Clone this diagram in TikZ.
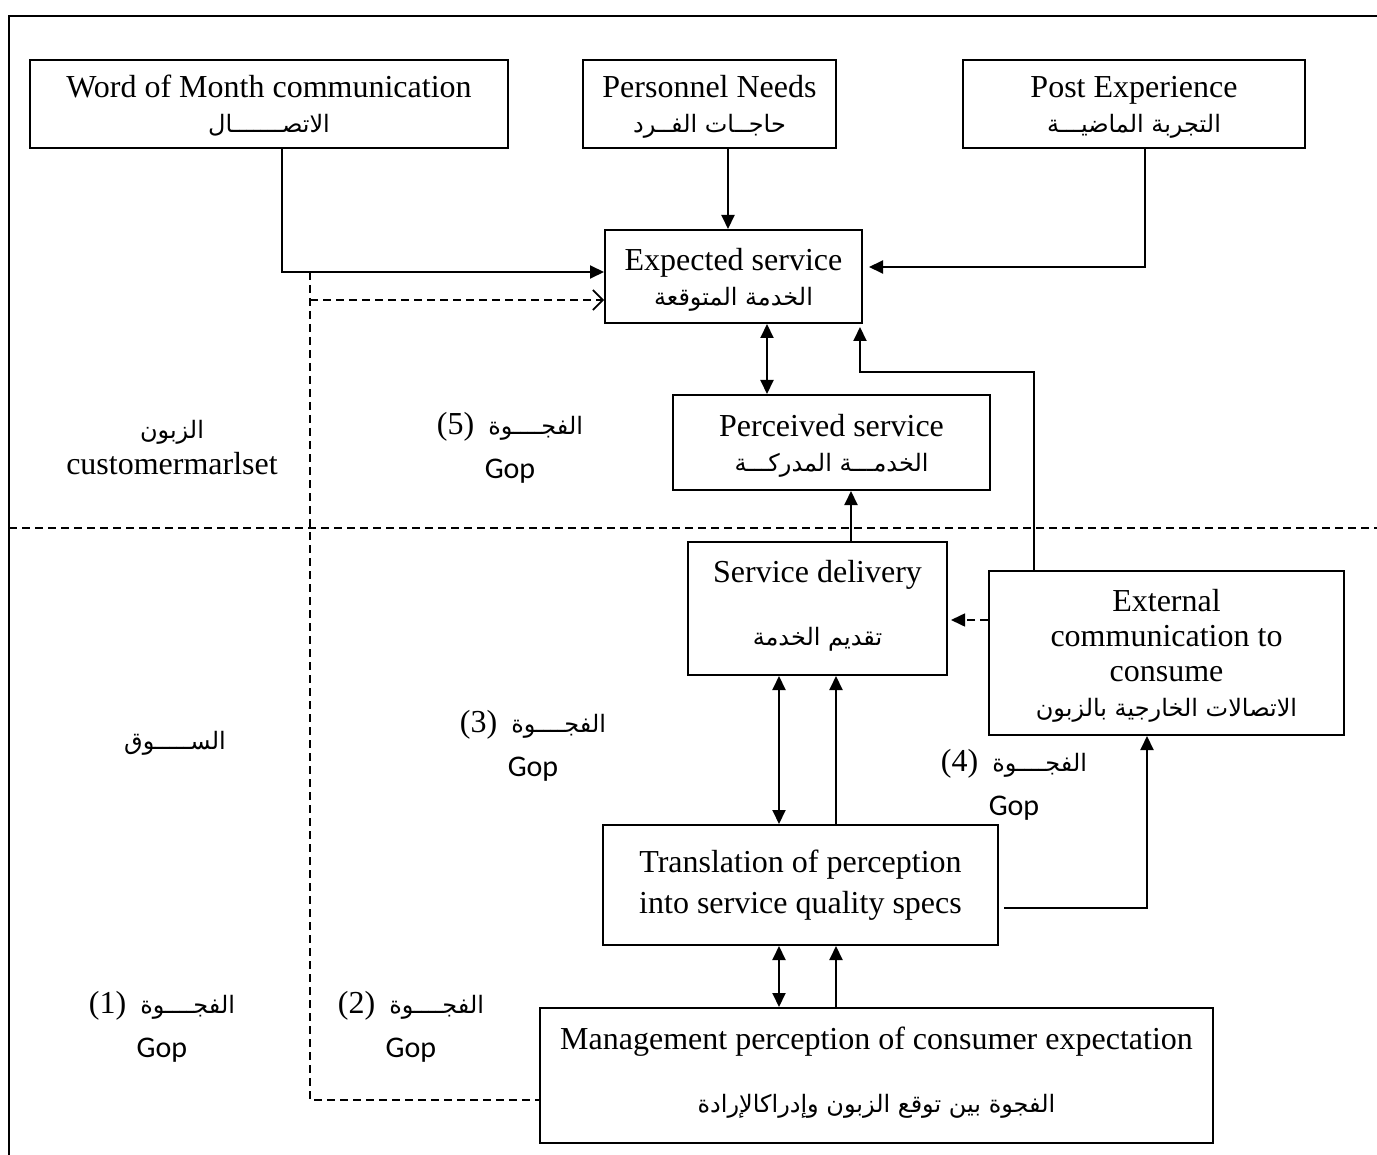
\documentclass[tikz,border=0pt]{standalone}
\usepackage{fontspec}
\setmainfont{Liberation Serif}
\newfontfamily\arabicfont[Script=Arabic]{DejaVu Sans}
\newfontfamily\gopfont{Carlito}
\usetikzlibrary{arrows.meta,calc}
\TeXXeTstate=1
% Arabic text, set right to left; its depth is ignored so lines centre evenly
\newcommand{\artext}[1]{\raisebox{0pt}[\height][0pt]{\arabicfont\fontsize{12}{14}\selectfont\beginR #1\endR}}
% extra depth below the last line of the taller boxes
\newcommand{\lowstrut}{\rule[-6pt]{0pt}{0pt}}
% gap label: number, Arabic word, then "Gop" below
\newcommand{\gaplabel}[1]{(#1)\hspace{7pt}\artext{الفجــــوة}\\[4pt] {\gopfont\fontsize{15}{17}\selectfont Gop}}

\tikzset{
  box/.style={draw, line width=1pt, inner sep=0pt, align=center,
              font=\fontsize{16}{17.5}\selectfont},
  conn/.style={line width=1pt},
  arr/.style={conn, -{Triangle[length=7pt,width=6.5pt]}},
  arrtwo/.style={conn, {Triangle[length=7pt,width=6.5pt]}-{Triangle[length=7pt,width=6.5pt]}},
  dashline/.style={line width=0.8pt, dash pattern=on 4pt off 2.5pt},
  lbl/.style={align=center, inner sep=0pt, font=\fontsize{16}{18}\selectfont},
}

\begin{document}
\begin{tikzpicture}[x=0.5pt,y=-0.5pt]
\useasboundingbox (0,0) rectangle (1377,1155);

% open frame (top and left edges)
\draw[line width=1pt] (9,1155) -- (9,16) -- (1377,16);

% boxes
\node[box, minimum width=239pt, minimum height=44pt] (word) at (269,104)
  {Word of Month communication\\ \artext{الاتصـــــــال}};
\node[box, minimum width=126.5pt, minimum height=44pt] (need) at (709.5,104)
  {Personnel Needs\\ \artext{حاجــات الفــرد}};
\node[box, minimum width=171pt, minimum height=44pt] (post) at (1134,104)
  {Post Experience\\ \artext{التجربة الماضيـــة}};
\node[box, minimum width=128.5pt, minimum height=46.5pt] (exp) at (733.5,276.5)
  {Expected service\\ \artext{الخدمة المتوقعة}};
\node[box, minimum width=158.5pt, minimum height=47.5pt] (perc) at (831.5,442.5)
  {Perceived service\\ \artext{الخدمـــة المدركـــة}};
\node[box, minimum width=129.5pt, minimum height=66.5pt] (deliv) at (817.5,608.5)
  {Service delivery\\[14pt] \artext{تقديم الخدمة}\lowstrut};
\node[box, minimum width=177.5pt, minimum height=82pt] (ext) at (1166.5,653)
  {External\\ communication to\\ consume\\ \artext{الاتصالات الخارجية  بالزبون}};
\node[box, minimum width=197.5pt, minimum height=60pt] (trans) at (800.5,885)
  {Translation of perception\\[3pt] into service quality specs};
\node[box, minimum width=336.5pt, minimum height=67.5pt] (mgmt) at (876.5,1075.5)
  {Management perception of consumer expectation\\[14pt] \artext{الفجوة بين توقع الزبون وإدراكالإرادة}\lowstrut};

% side labels
\node[lbl] (cust) at (172,448) {\artext{الزبون}\\ customermarlset};
\node[lbl] (mkt) at (175,740) {\artext{الســـــوق}};
\node[lbl] (g5) at (510,448) {\gaplabel{5}};
\node[lbl] (g3) at (533,746) {\gaplabel{3}};
\node[lbl] (g4) at (1014,785) {\gaplabel{4}};
\node[lbl] (g1) at (162,1027) {\gaplabel{1}};
\node[lbl] (g2) at (411,1027) {\gaplabel{2}};

% routing points
\coordinate (wx) at (282,272);
\coordinate (dx) at (310,272);
\coordinate (dy) at (310,300);
\coordinate (db) at (310,1100);
\coordinate (nx) at (728,0);
\coordinate (px) at (1145,267);
\coordinate (ex) at (767,0);
\coordinate (eu) at (1034,372);
\coordinate (el) at (860,372);
\coordinate (sx) at (851,0);
\coordinate (dl) at (0,620);
\coordinate (ta) at (779,0);
\coordinate (tb) at (836,0);
\coordinate (tr) at (1147,908);

% market / customer divider
\draw[dashline] (9,528) -- (1377,528);

% inputs to expected service
\draw[arr] (word.south -| wx) -- (wx) -- (exp.west |- wx);
\draw[arr] (need.south -| nx) -- (exp.north -| nx);
\draw[arr] (post.south -| px) -- (px) -- ([xshift=3pt]exp.east |- px);

% gap 1 dashed path
\draw[dashline] (dx) -- (db) -- (mgmt.west |- db);
\draw[dashline, -{Straight Barb[length=5pt,width=10pt]}] (dy) -- (exp.west |- dy);

% expected <-> perceived
\draw[arrtwo] (exp.south -| ex) -- (perc.north -| ex);

% external communication back to expected service
\draw[arr] (ext.north -| eu) -- (eu) -- (el) -- ([yshift=-1.5pt]exp.south -| el);

% delivery -> perceived
\draw[arr] (deliv.north -| sx) -- (perc.south -| sx);

% external -> delivery (dashed)
\draw[dashline, -{Triangle[length=7pt,width=6.5pt]}] (ext.west |- dl) -- ([xshift=1.5pt]deliv.east |- dl);

% translation <-> delivery
\draw[arrtwo] (trans.north -| ta) -- (deliv.south -| ta);
\draw[arr] (trans.north -| tb) -- (deliv.south -| tb);

% translation -> external
\draw[arr] ([xshift=2.5pt]trans.east |- tr) -- (tr) -- (ext.south -| tr);

% management <-> translation
\draw[arrtwo] (mgmt.north -| ta) -- (trans.south -| ta);
\draw[arr] (mgmt.north -| tb) -- (trans.south -| tb);
\end{tikzpicture}
\end{document}
